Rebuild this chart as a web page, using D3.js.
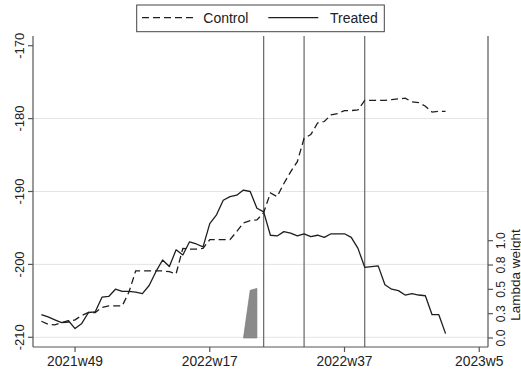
<!DOCTYPE html>
<html>
<head>
<meta charset="utf-8">
<script src="https://cdn.jsdelivr.net/npm/d3@7"></script>
<style>
  html, body { margin: 0; padding: 0; background: #fff; }
  svg { display: block; font-family: "Liberation Sans", Arial, sans-serif; }
</style>
</head>
<body>
<svg id="chart" width="521" height="372"></svg>
<script>
// Weekly series (Stata %tw numbering: 3220 = 2021w49)
const weeks = d3.range(3215, 3276);

const treated = [
  -206.9, -207.2, -207.6, -208.0, -207.7, -208.8, -208.1, -206.6, -206.5, -204.5,
  -204.4, -203.4, -203.7, -203.7, -203.8, -204.0, -202.9, -201.0, -199.4, -200.3,
  -198.0, -198.7, -196.9, -197.2, -197.6, -194.4, -193.2, -191.2, -190.7, -190.5,
  -189.8, -190.0, -192.3, -192.8, -196.0, -196.1, -195.5, -195.7, -196.1, -195.8,
  -196.2, -196.0, -196.3, -195.8, -195.8, -195.8, -196.3, -197.8, -200.4, -200.3,
  -200.2, -202.8, -203.4, -203.6, -204.2, -204.0, -204.2, -204.3, -206.9, -206.9,
  -209.5
];

const control = [
  -207.8, -208.2, -208.3, -208.0, -207.9, -207.6, -207.0, -206.6, -206.6, -205.9,
  -205.7, -205.7, -205.7, -203.8, -200.9, -200.9, -200.9, -200.9, -200.9, -201.0,
  -201.3, -197.8, -197.9, -197.9, -197.8, -196.6, -196.6, -196.6, -196.6, -195.5,
  -194.3, -194.0, -193.9, -192.9, -190.2, -190.7, -188.9, -187.3, -185.9, -182.7,
  -182.2, -180.6, -180.4, -179.5, -179.3, -178.9, -178.9, -178.8, -177.5, -177.5,
  -177.5, -177.5, -177.4, -177.3, -177.2, -177.7, -177.8, -178.3, -179.1, -179.0,
  -179.0
];

// Pre-period lambda weights (right axis)
const lambdaWeeks = [3245, 3246, 3247];
const lambda = [0, 0.49, 0.51];

// Reference weeks marked with vertical lines
const markWeeks = [3248, 3254, 3263];

// Axis ticks
const xTickWeeks = [3220, 3240, 3260, 3280];
const xTickLabels = ["2021w49", "2022w17", "2022w37", "2023w5"];
const yTicks = [-170, -180, -190, -200, -210];
const yGrid = [-180, -190, -200, -210];
const rTicks = [0, 0.25, 0.5, 0.75, 1];

const svg = d3.select("#chart");
const plot = { left: 33, right: 488, top: 36, bottom: 347 };

const x = d3.scaleLinear().domain([3213.76, 3281.3]).range([plot.left, plot.right]);
const y = d3.scaleLinear().domain([-210, -170]).range([337.3, 45.7]);
const yr = d3.scaleLinear().domain([0, 1]).range([338, 240.7]);

const ink = "#1e1e1e";
const axisColor = "#555";

// Gridlines
svg.append("g").selectAll("line").data(yGrid).join("line")
  .attr("x1", plot.left).attr("x2", plot.right)
  .attr("y1", d => y(d)).attr("y2", d => y(d))
  .attr("stroke", "#e4e4e4").attr("stroke-width", 1);

// Lambda weight area
const area = d3.area()
  .x((d, i) => x(lambdaWeeks[i]))
  .y0(yr(0))
  .y1(d => yr(d));
svg.append("path").datum(lambda)
  .attr("d", area)
  .attr("fill", "#8a8a8a")
  .attr("stroke", "#777").attr("stroke-width", 0.6);

// Vertical reference lines
svg.append("g").selectAll("line").data(markWeeks).join("line")
  .attr("x1", d => x(d)).attr("x2", d => x(d))
  .attr("y1", plot.top).attr("y2", plot.bottom)
  .attr("stroke", "#666").attr("stroke-width", 1.2);

// Series lines
const line = arr => d3.line().x((d, i) => x(weeks[i])).y(d => y(d))(arr);
svg.append("path").attr("d", line(control))
  .attr("fill", "none").attr("stroke", ink).attr("stroke-width", 1.3)
  .attr("stroke-dasharray", "7,4");
svg.append("path").attr("d", line(treated))
  .attr("fill", "none").attr("stroke", ink).attr("stroke-width", 1.3)
  .attr("stroke-linejoin", "round");

// Axis frame
const frame = svg.append("g").attr("stroke", axisColor).attr("stroke-width", 1.2);
frame.append("line").attr("x1", plot.left).attr("x2", plot.left).attr("y1", plot.top).attr("y2", plot.bottom);
frame.append("line").attr("x1", plot.left).attr("x2", plot.right).attr("y1", plot.bottom).attr("y2", plot.bottom);
frame.append("line").attr("x1", plot.right).attr("x2", plot.right).attr("y1", plot.top).attr("y2", plot.bottom);

// Left axis
const gl = svg.append("g");
gl.selectAll("line").data(yTicks).join("line")
  .attr("x1", plot.left - 5).attr("x2", plot.left)
  .attr("y1", d => y(d)).attr("y2", d => y(d))
  .attr("stroke", axisColor).attr("stroke-width", 1.2);
gl.selectAll("text").data(yTicks).join("text")
  .attr("transform", d => `translate(23.5,${y(d)}) rotate(-90)`)
  .attr("text-anchor", "middle")
  .attr("font-size", 13).attr("fill", "#222")
  .text(d => d3.format("d")(d).replace("−", "-"));

// Bottom axis
const gb = svg.append("g");
gb.selectAll("line").data(xTickWeeks).join("line")
  .attr("x1", d => x(d)).attr("x2", d => x(d))
  .attr("y1", plot.bottom).attr("y2", plot.bottom + 5)
  .attr("stroke", axisColor).attr("stroke-width", 1.2);
gb.selectAll("text").data(xTickWeeks).join("text")
  .attr("x", d => x(d)).attr("y", 366)
  .attr("text-anchor", "middle")
  .attr("font-size", 13.8).attr("fill", "#222")
  .text((d, i) => xTickLabels[i]);

// Right axis (lambda weight)
const gr = svg.append("g");
gr.selectAll("line").data(rTicks).join("line")
  .attr("x1", plot.right).attr("x2", plot.right + 5)
  .attr("y1", d => yr(d)).attr("y2", d => yr(d))
  .attr("stroke", axisColor).attr("stroke-width", 1.2);
gr.selectAll("text").data(rTicks).join("text")
  .attr("transform", d => `translate(505,${yr(d)}) rotate(-90)`)
  .attr("text-anchor", "middle")
  .attr("font-size", 12.2).attr("fill", "#222")
  .text(d => d3.format(".1f")(d));
svg.append("text")
  .attr("transform", "translate(519.5,275) rotate(-90)")
  .attr("text-anchor", "middle")
  .attr("font-size", 13.5).attr("fill", "#222")
  .text("Lambda weight");

// Legend
const lg = svg.append("g");
lg.append("rect").attr("x", 136.7).attr("y", 5).attr("width", 247.6).attr("height", 26.7)
  .attr("fill", "#fff").attr("stroke", "#444").attr("stroke-width", 1);
lg.append("line").attr("x1", 142).attr("x2", 195).attr("y1", 17.7).attr("y2", 17.7)
  .attr("stroke", ink).attr("stroke-width", 1.3).attr("stroke-dasharray", "7,4");
lg.append("text").attr("x", 203.3).attr("y", 23.3).attr("font-size", 14).attr("fill", "#222").text("Control");
lg.append("line").attr("x1", 268.3).attr("x2", 318.3).attr("y1", 17.7).attr("y2", 17.7)
  .attr("stroke", ink).attr("stroke-width", 1.3);
lg.append("text").attr("x", 330).attr("y", 23.3).attr("font-size", 14).attr("fill", "#222").text("Treated");
</script>
</body>
</html>
